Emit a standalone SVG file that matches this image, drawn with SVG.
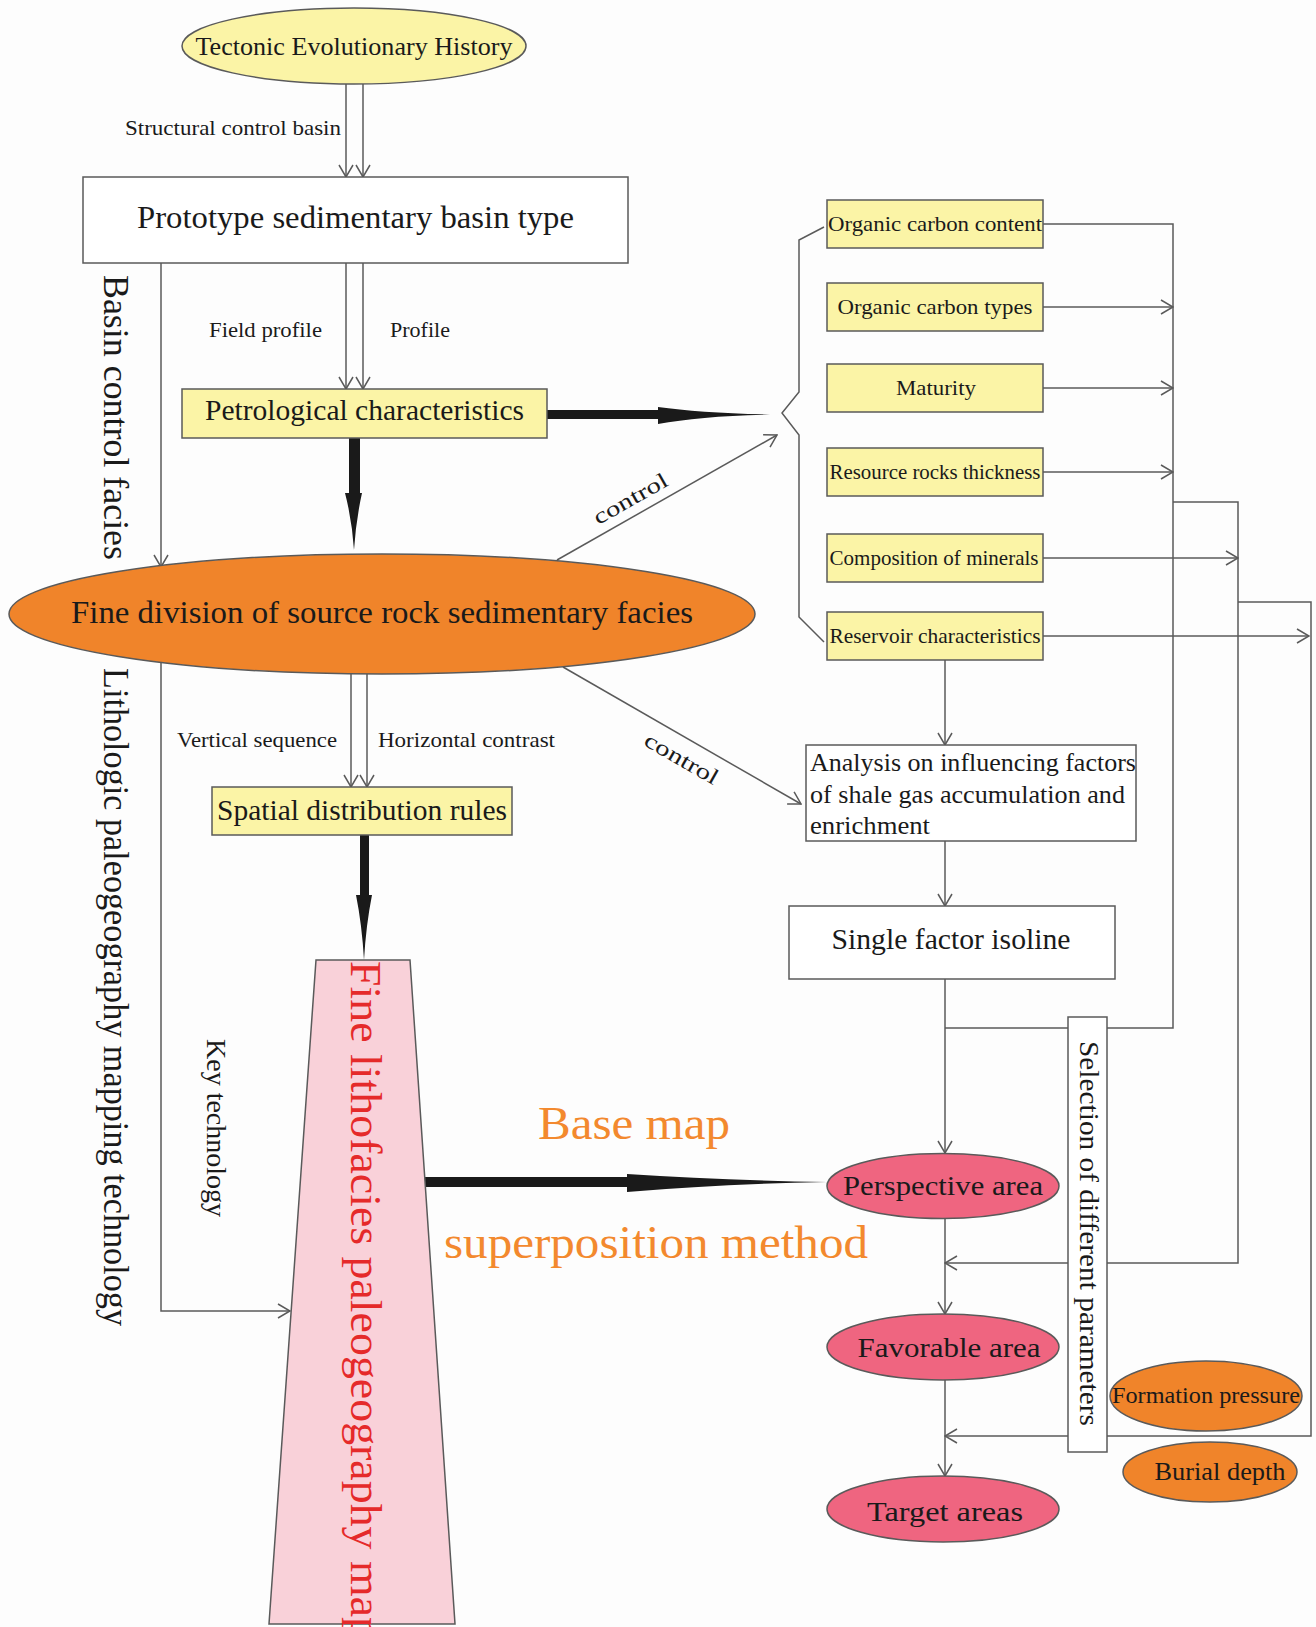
<svg xmlns="http://www.w3.org/2000/svg" width="1316" height="1627" viewBox="0 0 1316 1627">
<style>
text{font-family:"Liberation Serif","Times New Roman",serif;fill:#1a1a1a}
.ln{fill:none;stroke:#5a5a5a;stroke-width:1.5}
.box{stroke:#5a5a5a;stroke-width:1.5}
.yel{fill:#fbf4a6}
.wht{fill:#ffffff}
.org{fill:#f0842a}
.pnk{fill:#ef6580}
.thick{fill:#1a1a1a}
.lab{font-size:22px}
.orng{fill:#f3892e}
</style>
<defs>
<marker id="v" markerUnits="userSpaceOnUse" markerWidth="14" markerHeight="16" viewBox="0 0 14 16" refX="13" refY="8" orient="auto">
<path d="M1,1 L13,8 L1,15" fill="none" stroke="#5a5a5a" stroke-width="1.5"/>
</marker>
</defs>
<rect x="0" y="0" width="1316" height="1627" fill="#fdfdfd"/>

<g id="connectors">
<line class="ln" x1="346" y1="84" x2="346" y2="177" marker-end="url(#v)"/>
<line class="ln" x1="363" y1="84" x2="363" y2="177" marker-end="url(#v)"/>
<line class="ln" x1="346" y1="263" x2="346" y2="389" marker-end="url(#v)"/>
<line class="ln" x1="363" y1="263" x2="363" y2="389" marker-end="url(#v)"/>
<line class="ln" x1="351" y1="673" x2="351" y2="787" marker-end="url(#v)"/>
<line class="ln" x1="367" y1="673" x2="367" y2="787" marker-end="url(#v)"/>
<line class="ln" x1="161" y1="263" x2="161" y2="567" marker-end="url(#v)"/>
<polyline class="ln" points="161,662 161,1311 290,1311" marker-end="url(#v)"/>
<path class="thick" d="M547,410 L658,410 L658,407 Q700,413 770,414.5 Q700,416 658,424 L658,419 L547,419 Z"/>
<path class="thick" d="M349,438 L360,438 L360,493 L362,493 Q356,520 354,550 Q352,520 345,493 L349,493 Z"/>
<path class="thick" d="M360,835 L369,835 L369,895 L372,895 Q366,925 364,960 Q362,925 356,895 L360,895 Z"/>
<path class="thick" d="M423,1177 L627,1177 L627,1174 Q720,1180 827,1182 Q720,1184 627,1192 L627,1187 L423,1187 Z"/>
<polyline class="ln" points="824,227 799,240 799,392 782,413 799,435 799,617 824,642"/>
<line class="ln" x1="557" y1="560" x2="777" y2="435" marker-end="url(#v)"/>
<line class="ln" x1="563" y1="667" x2="801" y2="804" marker-end="url(#v)"/>
<polyline class="ln" points="1043,224 1173,224 1173,1028 945,1028"/>
<line class="ln" x1="1043" y1="307" x2="1173" y2="307" marker-end="url(#v)"/>
<line class="ln" x1="1043" y1="388" x2="1173" y2="388" marker-end="url(#v)"/>
<line class="ln" x1="1043" y1="472" x2="1173" y2="472" marker-end="url(#v)"/>
<polyline class="ln" points="1173,502 1238,502 1238,1263 945,1263" marker-end="url(#v)"/>
<line class="ln" x1="1043" y1="558" x2="1238" y2="558" marker-end="url(#v)"/>
<polyline class="ln" points="1238,602 1311,602 1311,1436 945,1436" marker-end="url(#v)"/>
<line class="ln" x1="1043" y1="636" x2="1309" y2="636" marker-end="url(#v)"/>
<line class="ln" x1="945" y1="660" x2="945" y2="745" marker-end="url(#v)"/>
<line class="ln" x1="945" y1="841" x2="945" y2="906" marker-end="url(#v)"/>
<line class="ln" x1="945" y1="979" x2="945" y2="1153" marker-end="url(#v)"/>
<line class="ln" x1="945" y1="1219" x2="945" y2="1314" marker-end="url(#v)"/>
<line class="ln" x1="945" y1="1380" x2="945" y2="1476" marker-end="url(#v)"/>
<text class="lab" x="125" y="135" textLength="216" lengthAdjust="spacingAndGlyphs">Structural control basin</text>
<text class="lab" x="209" y="337" textLength="113" lengthAdjust="spacingAndGlyphs">Field profile</text>
<text class="lab" x="390" y="337" textLength="60" lengthAdjust="spacingAndGlyphs">Profile</text>
<text class="lab" x="177" y="747" textLength="160" lengthAdjust="spacingAndGlyphs">Vertical sequence</text>
<text class="lab" x="378" y="747" textLength="177" lengthAdjust="spacingAndGlyphs">Horizontal contrast</text>
<text class="lab" font-size="24" text-anchor="middle" transform="translate(634,505) rotate(-29.6)" textLength="82" lengthAdjust="spacingAndGlyphs">control</text>
<text class="lab" font-size="24" text-anchor="middle" transform="translate(678,765) rotate(29.8)" textLength="82" lengthAdjust="spacingAndGlyphs">control</text>
<text font-size="36" transform="translate(104,275) rotate(90)" textLength="285" lengthAdjust="spacingAndGlyphs">Basin control facies</text>
<text font-size="35" transform="translate(104,668) rotate(90)" textLength="658" lengthAdjust="spacingAndGlyphs">Lithologic paleogeography mapping technology</text>
<text font-size="27" transform="translate(207,1039) rotate(90)" textLength="178" lengthAdjust="spacingAndGlyphs">Key technology</text>
<text class="orng" font-size="46" x="538" y="1139" textLength="192" lengthAdjust="spacingAndGlyphs">Base map</text>
<text class="orng" font-size="46" x="444" y="1258" textLength="424" lengthAdjust="spacingAndGlyphs">superposition method</text>
</g>

<g id="tectonic">
<ellipse class="box yel" cx="354" cy="46" rx="172" ry="38"/>
<text font-size="26" x="354" y="55" text-anchor="middle" textLength="317" lengthAdjust="spacingAndGlyphs">Tectonic Evolutionary History</text>
</g>
<g id="prototype">
<rect class="box wht" x="83" y="177" width="545" height="86"/>
<text font-size="32" x="137" y="228" textLength="437" lengthAdjust="spacingAndGlyphs">Prototype sedimentary basin type</text>
</g>
<g id="petrological">
<rect class="box yel" x="182" y="389" width="365" height="49"/>
<text font-size="29" x="205" y="420" textLength="319" lengthAdjust="spacingAndGlyphs">Petrological characteristics</text>
</g>
<g id="fine-division">
<ellipse class="box org" cx="382" cy="614" rx="373" ry="60"/>
<text font-size="31" x="382" y="623" text-anchor="middle" textLength="622" lengthAdjust="spacingAndGlyphs">Fine division of source rock sedimentary facies</text>
</g>
<g id="spatial">
<rect class="box yel" x="212" y="787" width="300" height="48"/>
<text font-size="29" x="217" y="820" textLength="290" lengthAdjust="spacingAndGlyphs">Spatial distribution rules</text>
</g>
<g id="lithofacies-map">
<polygon points="316,960 410,960 455,1624 269,1624" fill="#f9d1d9" stroke="#5a5a5a" stroke-width="1.5"/>
<text font-size="45" style="fill:#e52a2a" transform="translate(351,961) rotate(90)" textLength="679" lengthAdjust="spacingAndGlyphs">Fine lithofacies paleogeography map</text>
</g>
<g id="organic-content">
<rect class="box yel" x="827" y="200" width="216" height="48"/>
<text font-size="22" x="935" y="231" text-anchor="middle" textLength="214" lengthAdjust="spacingAndGlyphs">Organic carbon content</text>
</g>
<g id="organic-types">
<rect class="box yel" x="827" y="283" width="216" height="48"/>
<text font-size="22" x="935" y="314" text-anchor="middle" textLength="195" lengthAdjust="spacingAndGlyphs">Organic carbon types</text>
</g>
<g id="maturity">
<rect class="box yel" x="827" y="364" width="216" height="48"/>
<text font-size="22" x="936" y="395" text-anchor="middle" textLength="80" lengthAdjust="spacingAndGlyphs">Maturity</text>
</g>
<g id="thickness">
<rect class="box yel" x="827" y="448" width="216" height="48"/>
<text font-size="22" x="935" y="479" text-anchor="middle" textLength="211" lengthAdjust="spacingAndGlyphs">Resource rocks thickness</text>
</g>
<g id="minerals">
<rect class="box yel" x="827" y="534" width="216" height="48"/>
<text font-size="22" x="934" y="565" text-anchor="middle" textLength="209" lengthAdjust="spacingAndGlyphs">Composition of minerals</text>
</g>
<g id="reservoir">
<rect class="box yel" x="827" y="612" width="216" height="48"/>
<text font-size="22" x="935" y="643" text-anchor="middle" textLength="211" lengthAdjust="spacingAndGlyphs">Reservoir characteristics</text>
</g>
<g id="analysis">
<rect class="box wht" x="806" y="745" width="330" height="96"/>
<text font-size="26" x="810" y="771" textLength="326" lengthAdjust="spacingAndGlyphs">Analysis on influencing factors</text>
<text font-size="26" x="810" y="803" textLength="315" lengthAdjust="spacingAndGlyphs">of shale gas accumulation and</text>
<text font-size="26" x="810" y="834" textLength="120" lengthAdjust="spacingAndGlyphs">enrichment</text>
</g>
<g id="single-factor">
<rect class="box wht" x="789" y="906" width="326" height="73"/>
<text font-size="29" x="951" y="949" text-anchor="middle" textLength="239" lengthAdjust="spacingAndGlyphs">Single factor isoline</text>
</g>
<g id="selection">
<rect class="box wht" x="1068" y="1017" width="39" height="435"/>
<text font-size="28" transform="translate(1080,1041) rotate(90)" textLength="385" lengthAdjust="spacingAndGlyphs">Selection of different parameters</text>
</g>
<g id="perspective">
<ellipse class="box pnk" cx="943" cy="1186" rx="116" ry="32.5"/>
<text font-size="28" x="943" y="1195" text-anchor="middle" textLength="200" lengthAdjust="spacingAndGlyphs">Perspective area</text>
</g>
<g id="favorable">
<ellipse class="box pnk" cx="943" cy="1347" rx="116" ry="33"/>
<text font-size="28" x="949" y="1357" text-anchor="middle" textLength="183" lengthAdjust="spacingAndGlyphs">Favorable area</text>
</g>
<g id="target">
<ellipse class="box pnk" cx="943" cy="1509" rx="116" ry="33"/>
<text font-size="28" x="945" y="1521" text-anchor="middle" textLength="156" lengthAdjust="spacingAndGlyphs">Target areas</text>
</g>
<g id="formation-pressure">
<ellipse class="box org" cx="1206" cy="1396" rx="96" ry="35"/>
<text font-size="23" x="1206" y="1403" text-anchor="middle" textLength="188" lengthAdjust="spacingAndGlyphs">Formation pressure</text>
</g>
<g id="burial-depth">
<ellipse class="box org" cx="1210" cy="1472" rx="87" ry="30"/>
<text font-size="25" x="1220" y="1480" text-anchor="middle" textLength="131" lengthAdjust="spacingAndGlyphs">Burial depth</text>
</g>
</svg>
